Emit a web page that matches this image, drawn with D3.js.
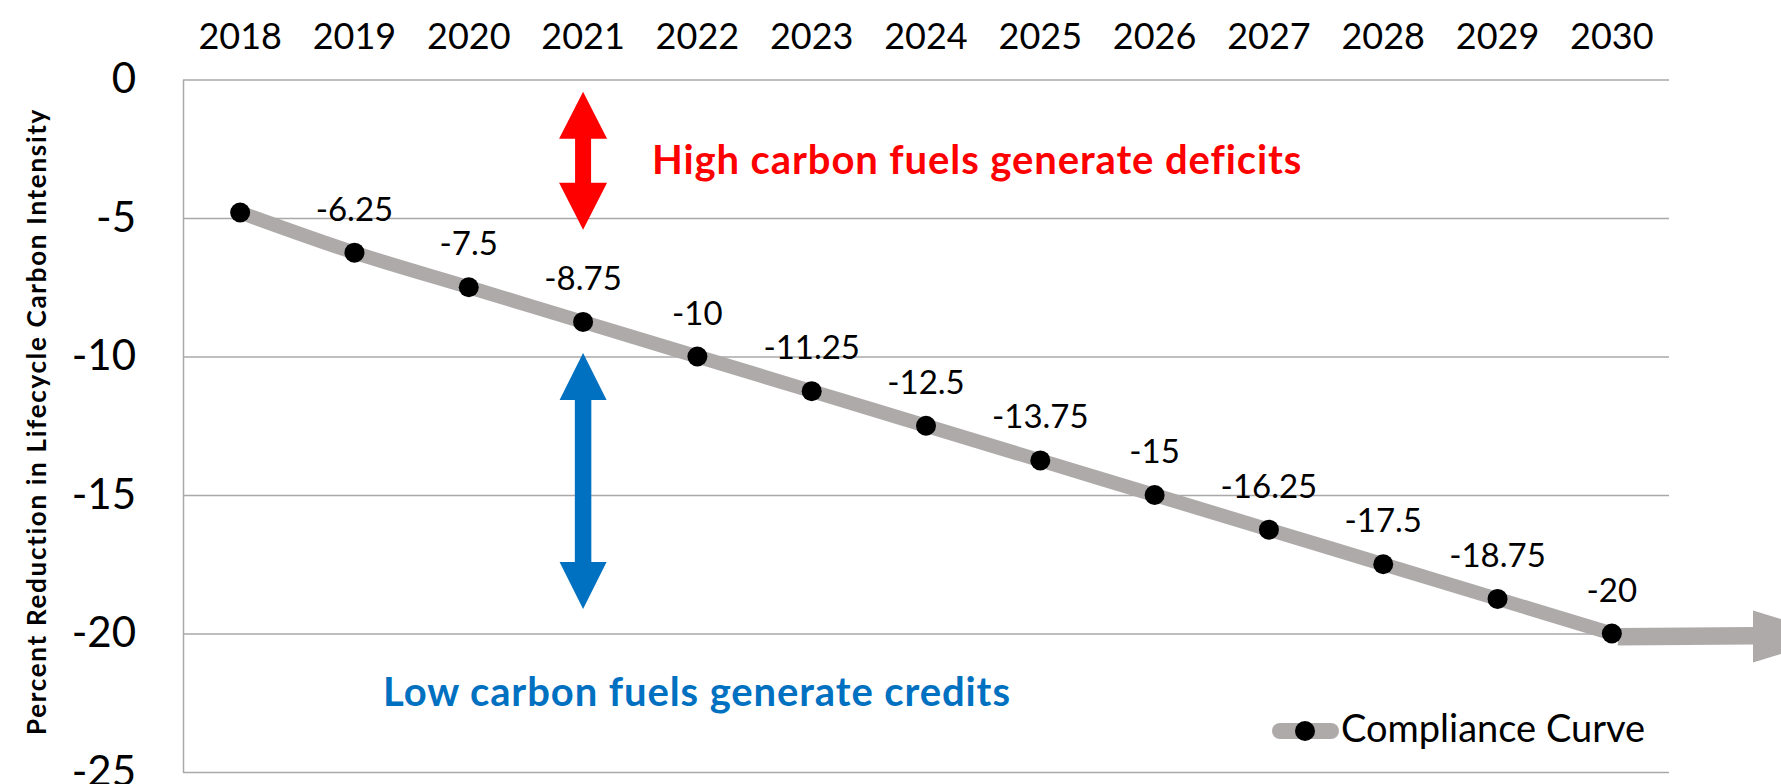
<!DOCTYPE html>
<html>
<head>
<meta charset="utf-8">
<script src="https://cdn.jsdelivr.net/npm/d3@7"></script>
<style>
  html, body { margin: 0; padding: 0; background: #ffffff; overflow: hidden; }
  svg { display: block; }
  text { font-family: Lato, "Open Sans", sans-serif; }
</style>
</head>
<body>
<svg id="chart" width="1781" height="784"></svg>
<script>
// ---- data ----
const years = ["2018","2019","2020","2021","2022","2023","2024","2025","2026","2027","2028","2029","2030"];
const compliance = [-4.8, -6.25, -7.5, -8.75, -10, -11.25, -12.5, -13.75, -15, -16.25, -17.5, -18.75, -20];
const pointLabels = ["", "-6.25", "-7.5", "-8.75", "-10", "-11.25", "-12.5", "-13.75", "-15", "-16.25", "-17.5", "-18.75", "-20"];
const yTicks = [0, -5, -10, -15, -20, -25];
const yTickLabels = ["0", "-5", "-10", "-15", "-20", "-25"];
const seriesName = "Compliance Curve";
const yTitle = "Percent Reduction in Lifecycle Carbon Intensity";
const deficitText = "High carbon fuels generate deficits";
const creditText = "Low carbon fuels generate credits";

(function () {
// ---- layout ----
const svg = d3.select("#chart");
const pL = 183, pR = 1669, pT = 79.5, pB = 772;
const plotW = pR - pL;

const x = d3.scaleBand().domain(years).range([pL, pR]).padding(0);
const y = d3.scaleLinear().domain([-25, 0]).range([pB, pT]);
const cx = d => x(d) + x.bandwidth() / 2;

const gridColor = "#a9a9a9";
const lineColor = "#aeaaaa";

// y axis with gridlines
const yAxis = svg.append("g")
  .attr("transform", `translate(${pL},0)`)
  .call(d3.axisLeft(y).tickValues(yTicks).tickFormat((d, i) => yTickLabels[i])
        .tickSizeInner(-plotW).tickSizeOuter(0).tickPadding(47));
yAxis.selectAll(".tick line").attr("stroke", gridColor).attr("stroke-width", 1.5);
yAxis.select(".domain").attr("stroke", gridColor).attr("stroke-width", 1.5);
yAxis.selectAll(".tick text")
  .attr("font-family", "Lato, sans-serif")
  .attr("font-size", 42)
  .attr("fill", "#000");

// x axis (labels on top)
const xAxis = svg.append("g")
  .attr("transform", `translate(0,${pT})`)
  .call(d3.axisTop(x).tickSize(0).tickPadding(31));
xAxis.select(".domain").remove();
xAxis.selectAll(".tick text")
  .attr("font-family", "Lato, sans-serif")
  .attr("font-size", 36)
  .attr("fill", "#000");

// y axis title
svg.append("text")
  .attr("transform", `translate(46,${(108 + 735) / 2}) rotate(-90)`)
  .attr("text-anchor", "middle")
  .attr("font-weight", 700)
  .attr("font-size", 26)
  .attr("letter-spacing", 1.7)
  .attr("fill", "#000")
  .text(yTitle);

// double-headed block arrows
function doubleArrow(xc, yTop, yBot, headW, headL, shaftW) {
  const hw = headW / 2, sw = shaftW / 2;
  return [
    [xc, yTop], [xc + hw, yTop + headL], [xc + sw, yTop + headL],
    [xc + sw, yBot - headL], [xc + hw, yBot - headL], [xc, yBot],
    [xc - hw, yBot - headL], [xc - sw, yBot - headL], [xc - sw, yTop + headL],
    [xc - hw, yTop + headL]
  ];
}
const arrowX = cx("2021");
svg.append("polygon")
  .attr("points", doubleArrow(arrowX, y(-0.44), y(-5.42), 48, 47, 16).map(p => p.join(",")).join(" "))
  .attr("fill", "#ff0000");
svg.append("polygon")
  .attr("points", doubleArrow(arrowX, y(-9.87), y(-19.12), 47, 47, 16.5).map(p => p.join(",")).join(" "))
  .attr("fill", "#0070c0");

// annotation texts
svg.append("text")
  .attr("x", 652).attr("y", 174)
  .attr("font-weight", 700).attr("font-size", 40)
  .attr("letter-spacing", 0.9)
  .attr("fill", "#ff0000")
  .text(deficitText);
svg.append("text")
  .attr("x", 383).attr("y", 706)
  .attr("font-weight", 700).attr("font-size", 40)
  .attr("letter-spacing", 0.9)
  .attr("fill", "#0070c0")
  .text(creditText);

// continuation arrow after last point
const lastX = cx(years[years.length - 1]);
const lastY = y(compliance[compliance.length - 1]) + 3;
const shaftEnd = 1753, tipX = 1838;
svg.append("polygon")
  .attr("points", [
    [lastX + 6, lastY - 8.5], [shaftEnd, lastY - 9.5], [shaftEnd, lastY - 26],
    [tipX, lastY], [shaftEnd, lastY + 26], [shaftEnd, lastY + 8], [lastX + 6, lastY + 9]
  ].map(p => p.join(",")).join(" "))
  .attr("fill", lineColor);

// compliance curve
const pts = years.map((yr, i) => ({ yr, v: compliance[i], label: pointLabels[i] }));
const line = d3.line()
  .x(d => cx(d.yr))
  .y(d => y(d.v))
  .curve(d3.curveCatmullRom.alpha(0.5));
svg.append("path")
  .datum(pts)
  .attr("d", line)
  .attr("fill", "none")
  .attr("stroke", lineColor)
  .attr("stroke-width", 14);

svg.selectAll("circle.pt")
  .data(pts)
  .join("circle")
  .attr("class", "pt")
  .attr("cx", d => cx(d.yr))
  .attr("cy", d => y(d.v))
  .attr("r", 10)
  .attr("fill", "#000");

svg.selectAll("text.lbl")
  .data(pts.filter(d => d.label !== ""))
  .join("text")
  .attr("class", "lbl")
  .attr("x", d => cx(d.yr))
  .attr("y", d => y(d.v) - 32)
  .attr("text-anchor", "middle")
  .attr("font-size", 33)
  .attr("fill", "#000")
  .text(d => d.label);

// legend
const lg = svg.append("g");
lg.append("line")
  .attr("x1", 1280).attr("x2", 1331).attr("y1", 731).attr("y2", 731)
  .attr("stroke", lineColor).attr("stroke-width", 16).attr("stroke-linecap", "round");
lg.append("circle").attr("cx", 1305).attr("cy", 731).attr("r", 10).attr("fill", "#000");
lg.append("text")
  .attr("x", 1341).attr("y", 742)
  .attr("font-size", 38)
  .attr("fill", "#000")
  .text(seriesName);
})();
</script>
</body>
</html>
